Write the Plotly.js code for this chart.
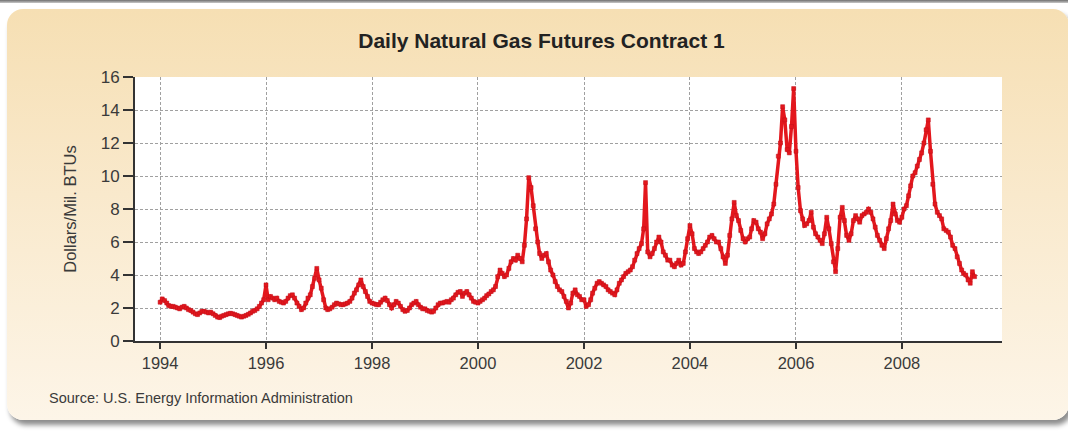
<!DOCTYPE html>
<html>
<head>
<meta charset="utf-8">
<script src="https://cdn.plot.ly/plotly-3.0.1.min.js"></script>
<style>
  html, body { margin:0; padding:0; background:#ffffff; width:1068px; height:432px; overflow:hidden; }
  #topbar { position:absolute; left:0; top:0; width:1068px; height:3px; background:linear-gradient(#6f6f6f,#c8c8c8); }
  #panel { position:absolute; left:7px; top:9px; width:1062px; height:411px; border-radius:16px;
           background:linear-gradient(180deg,#f6dfb3 0%,#f9e9cc 45%,#fdf5e8 100%);
           box-shadow:3px 5px 5px rgba(0,0,0,0.45); }
  #chart { position:absolute; left:0; top:0; width:1068px; height:432px; }
</style>
</head>
<body>
<div id="topbar"></div>
<div id="panel"></div>
<div id="chart"></div>
<script>
// Semi-monthly readings (1st and 16th of each month), Dollars per Mil. BTUs
const years = [1994,1995,1996,1997,1998,1999,2000,2001,2002,2003,2004,2005,2006,2007,2008,2009];
const p1994 = [2.35,2.55,2.45,2.3,2.15,2.1,2.1,2.05,2.0,1.95,2.05,2.1,2.0,1.9,1.85,1.75,1.65,1.6,1.7,1.8,1.8,1.75,1.7,1.75];
const p1995 = [1.65,1.55,1.45,1.42,1.5,1.55,1.6,1.65,1.68,1.65,1.6,1.55,1.5,1.45,1.5,1.55,1.62,1.7,1.8,1.85,1.95,2.1,2.3,2.5];
const p1996 = [3.4,2.5,2.7,2.6,2.5,2.6,2.4,2.35,2.3,2.4,2.6,2.75,2.8,2.6,2.3,2.1,1.9,2.0,2.3,2.6,2.8,3.3,3.8,4.4];
const p1997 = [3.7,3.2,2.5,2.0,1.9,1.95,2.05,2.2,2.3,2.25,2.2,2.2,2.25,2.3,2.4,2.6,2.9,3.1,3.4,3.7,3.3,3.0,2.7,2.4];
const p1998 = [2.3,2.25,2.2,2.2,2.35,2.5,2.6,2.45,2.2,2.0,2.2,2.4,2.3,2.1,1.9,1.8,1.85,2.0,2.2,2.3,2.4,2.2,2.05,1.95];
const p1999 = [1.95,1.85,1.8,1.75,1.8,2.0,2.2,2.3,2.3,2.35,2.4,2.35,2.5,2.6,2.8,2.95,3.0,2.7,2.9,3.0,2.8,2.6,2.4,2.35];
const p2000 = [2.3,2.4,2.5,2.6,2.75,2.85,3.0,3.1,3.3,3.9,4.3,4.1,3.9,4.0,4.4,4.8,5.0,4.9,5.2,5.0,4.8,5.8,7.4,9.9];
const p2001 = [9.3,8.2,6.8,6.0,5.3,5.0,5.2,5.3,4.8,4.3,4.0,3.6,3.3,3.1,3.0,2.7,2.4,2.0,2.3,2.9,3.1,2.8,2.7,2.5];
const p2002 = [2.5,2.1,2.2,2.5,2.9,3.2,3.5,3.6,3.5,3.4,3.3,3.1,3.0,2.9,2.8,3.1,3.5,3.7,3.9,4.1,4.2,4.3,4.5,4.9];
const p2003 = [5.3,5.6,5.9,6.8,9.6,5.4,5.1,5.3,5.6,6.0,6.3,6.0,5.4,5.2,4.9,4.9,4.6,4.5,4.7,4.9,4.6,4.7,5.4,6.2];
const p2004 = [7.0,6.5,5.6,5.4,5.3,5.4,5.6,5.8,6.0,6.3,6.4,6.2,6.0,6.0,5.6,5.1,4.7,5.2,6.4,7.4,8.4,7.6,7.3,6.7];
const p2005 = [6.2,6.0,6.2,6.3,6.8,7.3,7.2,6.8,6.6,6.2,6.5,7.1,7.4,7.7,8.3,9.5,11.2,12.0,14.2,13.4,11.6,11.4,13.0,15.3];
const p2006 = [11.5,9.3,7.9,7.4,7.0,7.1,7.3,7.8,6.9,6.5,6.3,6.1,5.9,6.5,7.5,6.8,5.9,4.8,4.2,5.6,7.5,8.1,7.3,6.4];
const p2007 = [6.1,6.5,7.3,7.6,7.4,7.2,7.6,7.7,7.8,8.0,7.8,7.4,6.9,6.4,6.1,5.8,5.6,6.2,6.8,7.3,8.3,7.7,7.3,7.2];
const p2008 = [7.5,8.0,8.2,8.8,9.4,10.0,10.2,10.6,11.0,11.4,12.0,12.8,13.4,11.5,9.5,8.3,7.8,7.6,7.4,6.8,6.7,6.6,6.3,5.8];
const p2009 = [5.6,5.1,4.7,4.3,4.1,4.0,3.7,3.5,4.2,3.9];
const yearValues = [p1994,p1995,p1996,p1997,p1998,p1999,p2000,p2001,p2002,p2003,p2004,p2005,p2006,p2007,p2008,p2009];
const dayOfMonth = ['01','16'];

const xs = [], ys = [];
years.forEach((yr, i) => {
  yearValues[i].forEach((v, j) => {
    const m = String(Math.floor(j / 2) + 1).padStart(2, '0');
    xs.push(yr + '-' + m + '-' + dayOfMonth[j % 2]);
    ys.push(v);
  });
});

const trace = {
  x: xs, y: ys, type: 'scatter', mode: 'lines+markers',
  line: { color: '#e3171d', width: 3.5 },
  marker: { symbol: 'square', size: 4, color: '#e3171d', line: { color: '#c0101a', width: 0.5 } },
  hoverinfo: 'x+y'
};

const FONT = 'Liberation Sans, Arial, sans-serif';
const layout = {
  width: 1068, height: 432,
  margin: { l: 135, r: 66, t: 77, b: 91 },
  paper_bgcolor: 'rgba(0,0,0,0)',
  plot_bgcolor: '#ffffff',
  showlegend: false,
  font: { family: FONT, color: '#3a3a3a' },
  title: {
    text: '<b>Daily Natural Gas Futures Contract 1</b>',
    font: { family: FONT, size: 21, color: '#222222' },
    x: 0.507, xanchor: 'center', y: 0.905, yanchor: 'middle'
  },
  xaxis: {
    type: 'date',
    range: ['1993-07-12', '2009-11-21'],
    tick0: '1994-01-01', dtick: 'M24', tickformat: '%Y',
    ticks: 'outside', ticklen: 6, tickwidth: 1.5, tickcolor: '#333333',
    showline: true, linecolor: '#333333', linewidth: 2,
    showgrid: true, gridcolor: '#a0a0a0', griddash: '3px,2px', gridwidth: 1,
    zeroline: false,
    tickfont: { size: 16.5, color: '#3a3a3a' }
  },
  yaxis: {
    range: [0, 16], dtick: 2, tick0: 0,
    ticks: 'outside', ticklen: 10, tickwidth: 1.5, tickcolor: '#333333',
    showline: true, linecolor: '#333333', linewidth: 2,
    showgrid: true, gridcolor: '#a0a0a0', griddash: '3px,2px', gridwidth: 1,
    zeroline: false,
    tickfont: { size: 17, color: '#3a3a3a' },
    title: { text: 'Dollars/Mil. BTUs', font: { size: 16.5, color: '#3a3a3a' }, standoff: 20 }
  },
  annotations: [{
    text: 'Source: U.S. Energy Information Administration',
    xref: 'paper', yref: 'paper', x: -0.101, y: -0.215,
    xanchor: 'left', yanchor: 'middle', showarrow: false,
    font: { size: 14.5, color: '#3a3a3a' }
  }]
};

Plotly.newPlot('chart', [trace], layout, { displayModeBar: false, staticPlot: true });
</script>
</body>
</html>
